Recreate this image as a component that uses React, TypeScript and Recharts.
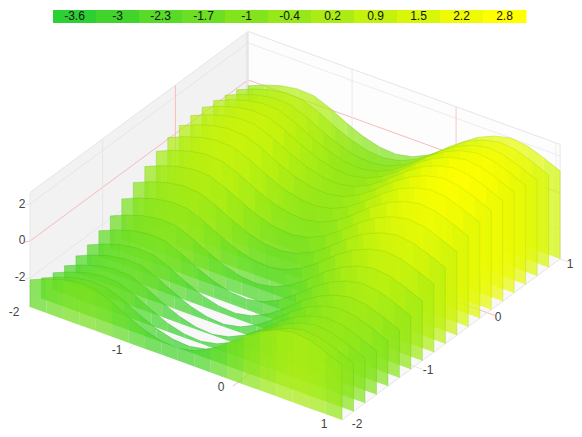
import React from "react";
import { ScatterChart, Scatter, XAxis, YAxis } from "recharts";

const WIDTH = 582;
const HEIGHT = 437;

// x positions along every ribbon, y position of every ribbon
const xValues = [-2, -1.842, -1.684, -1.526, -1.368, -1.211, -1.053, -0.895, -0.737, -0.579, -0.421, -0.263, -0.105, 0.053, 0.211, 0.368, 0.526, 0.684, 0.842, 1];
const yValues = [-2, -1.842, -1.684, -1.526, -1.368, -1.211, -1.053, -0.895, -0.737, -0.579, -0.421, -0.263, -0.105, 0.053, 0.211, 0.368, 0.526, 0.684, 0.842, 1];

// top edge of each ribbon
const ribbon0 = [-2.1, -1.73, -1.45, -1.3, -1.35, -1.71, -2.18, -2.58, -2.83, -2.9, -2.72, -2.3, -1.68, -0.97, -0.38, 0.01, 0.22, 0.12, -0.2, -0.59];
const ribbon1 = [-2.46, -2.09, -1.81, -1.66, -1.71, -2.07, -2.54, -2.94, -3.19, -3.26, -3.08, -2.66, -2.04, -1.33, -0.74, -0.35, -0.14, -0.24, -0.56, -0.95];
const ribbon2 = [-2.64, -2.27, -1.99, -1.84, -1.89, -2.25, -2.72, -3.12, -3.37, -3.44, -3.26, -2.84, -2.22, -1.51, -0.92, -0.53, -0.32, -0.42, -0.74, -1.13];
const ribbon3 = [-2.72, -2.35, -2.07, -1.92, -1.97, -2.33, -2.8, -3.2, -3.45, -3.52, -3.34, -2.92, -2.3, -1.59, -1.0, -0.61, -0.4, -0.5, -0.82, -1.21];
const ribbon4 = [-2.64, -2.27, -1.99, -1.84, -1.89, -2.25, -2.72, -3.12, -3.37, -3.44, -3.26, -2.84, -2.22, -1.51, -0.92, -0.53, -0.32, -0.42, -0.74, -1.13];
const ribbon5 = [-2.5, -2.13, -1.85, -1.7, -1.75, -2.11, -2.58, -2.98, -3.23, -3.3, -3.12, -2.7, -2.08, -1.37, -0.78, -0.39, -0.18, -0.28, -0.6, -0.99];
const ribbon6 = [-2.2, -1.83, -1.55, -1.4, -1.45, -1.81, -2.28, -2.68, -2.93, -3.0, -2.82, -2.4, -1.78, -1.07, -0.48, -0.09, 0.12, 0.02, -0.3, -0.69];
const ribbon7 = [-1.85, -1.48, -1.2, -1.05, -1.1, -1.46, -1.93, -2.33, -2.58, -2.65, -2.47, -2.05, -1.43, -0.72, -0.13, 0.26, 0.47, 0.37, 0.05, -0.34];
const ribbon8 = [-1.39, -1.02, -0.74, -0.59, -0.64, -1.0, -1.47, -1.87, -2.12, -2.19, -2.01, -1.59, -0.97, -0.26, 0.33, 0.72, 0.93, 0.83, 0.51, 0.12];
const ribbon9 = [-0.97, -0.6, -0.32, -0.17, -0.22, -0.58, -1.05, -1.45, -1.7, -1.77, -1.59, -1.17, -0.55, 0.16, 0.75, 1.14, 1.35, 1.25, 0.93, 0.54];
const ribbon10 = [-0.56, -0.19, 0.09, 0.24, 0.19, -0.17, -0.64, -1.04, -1.29, -1.36, -1.18, -0.76, -0.14, 0.57, 1.16, 1.55, 1.76, 1.66, 1.34, 0.95];
const ribbon11 = [-0.19, 0.18, 0.46, 0.61, 0.56, 0.2, -0.27, -0.67, -0.92, -0.99, -0.81, -0.39, 0.23, 0.94, 1.53, 1.92, 2.13, 2.03, 1.71, 1.32];
const ribbon12 = [0.09, 0.46, 0.74, 0.89, 0.84, 0.48, 0.01, -0.39, -0.64, -0.71, -0.53, -0.11, 0.51, 1.22, 1.81, 2.2, 2.41, 2.31, 1.99, 1.6];
const ribbon13 = [0.28, 0.65, 0.93, 1.08, 1.03, 0.67, 0.2, -0.2, -0.45, -0.52, -0.34, 0.08, 0.7, 1.41, 2.0, 2.39, 2.6, 2.5, 2.18, 1.79];
const ribbon14 = [0.36, 0.73, 1.01, 1.16, 1.11, 0.75, 0.28, -0.12, -0.37, -0.44, -0.26, 0.16, 0.78, 1.49, 2.08, 2.47, 2.68, 2.58, 2.26, 1.87];
const ribbon15 = [0.36, 0.73, 1.01, 1.16, 1.11, 0.75, 0.28, -0.12, -0.37, -0.44, -0.26, 0.16, 0.78, 1.49, 2.08, 2.47, 2.68, 2.58, 2.26, 1.87];
const ribbon16 = [0.26, 0.63, 0.91, 1.06, 1.01, 0.65, 0.18, -0.22, -0.47, -0.54, -0.36, 0.06, 0.68, 1.39, 1.98, 2.37, 2.58, 2.48, 2.16, 1.77];
const ribbon17 = [0.09, 0.46, 0.74, 0.89, 0.84, 0.48, 0.01, -0.39, -0.64, -0.71, -0.53, -0.11, 0.51, 1.22, 1.81, 2.2, 2.41, 2.31, 1.99, 1.6];
const ribbon18 = [-0.08, 0.29, 0.57, 0.72, 0.67, 0.31, -0.16, -0.56, -0.81, -0.88, -0.7, -0.28, 0.34, 1.05, 1.64, 2.03, 2.24, 2.14, 1.82, 1.43];
const ribbon19 = [-0.32, 0.05, 0.33, 0.48, 0.43, 0.07, -0.4, -0.8, -1.05, -1.12, -0.94, -0.52, 0.1, 0.81, 1.4, 1.79, 2.0, 1.9, 1.58, 1.19];
const ribbons = [ribbon0, ribbon1, ribbon2, ribbon3, ribbon4, ribbon5, ribbon6, ribbon7, ribbon8, ribbon9, ribbon10, ribbon11, ribbon12, ribbon13, ribbon14, ribbon15, ribbon16, ribbon17, ribbon18, ribbon19];

const legendLabels = ["-3.6", "-3", "-2.3", "-1.7", "-1", "-0.4", "0.2", "0.9", "1.5", "2.2", "2.8"];
const zTicks = [-2, 0, 2];
const xTicks = [-2, -1, 0, 1];
const yTicks = [-2, -1, 0, 1];

const Z_MIN = -3.57;
const Z_MAX = 2.62;
const GREY = "#e6e6e6";
const RED = "#f6bcbc";

type Pt = { x: number; y: number };

const project = (x: number, y: number, z: number): Pt => ({
  x: 30 + (x + 2) * 104 + (y + 2) * 72.7,
  y: 241 + (x + 2) * 37.67 - (y + 2) * 53.7 - z * 18.5,
});

const colorParts = (v: number) => {
  const t = Math.max(0, Math.min(1, (v + 3.6) / 6.3));
  return [44 + 211 * t, 208 + 47 * t, 50 - 50 * t];
};
const colorFor = (v: number) => {
  const [r, g, b] = colorParts(v);
  return `rgb(${Math.round(r)},${Math.round(g)},${Math.round(b)})`;
};
const edgeFor = (v: number) => {
  const [r, g, b] = colorParts(v);
  return `rgb(${Math.round(r * 0.8)},${Math.round(g * 0.86)},${Math.round(b * 0.8)})`;
};

type Item = {
  sx: number;
  sy: number;
  kind: "poly" | "line" | "text" | "rect";
  pts?: Pt[];
  fill?: string;
  fillOpacity?: number;
  stroke?: string;
  strokeOpacity?: number;
  text?: string;
  anchor?: string;
  size?: number;
  w?: number;
  h?: number;
};

const poly = (pts: Pt[], fill: string, fillOpacity = 1): Item => ({ sx: pts[0].x, sy: pts[0].y, kind: "poly", pts, fill, fillOpacity });
const line = (pts: Pt[], stroke: string, strokeOpacity = 1): Item => ({ sx: pts[0].x, sy: pts[0].y, kind: "line", pts, stroke, strokeOpacity });
const label = (x: number, y: number, text: string, fill = "#444", size = 12): Item => ({ sx: x, sy: y, kind: "text", text, fill, size, anchor: "middle" });

const Mark = (props: any) => {
  const { cx, cy, payload } = props;
  const d: Item = payload;
  const shifted = (d.pts || []).map((p) => `${cx + p.x - d.sx},${cy + p.y - d.sy}`).join(" ");
  if (d.kind === "poly") return <polygon points={shifted} fill={d.fill} fillOpacity={d.fillOpacity} stroke="none" />;
  if (d.kind === "line") return <polyline points={shifted} fill="none" stroke={d.stroke} strokeOpacity={d.strokeOpacity} strokeWidth={1} />;
  if (d.kind === "rect") return <rect x={cx} y={cy} width={d.w} height={d.h} fill={d.fill} />;
  return (
    <text x={cx} y={cy} textAnchor={d.anchor as any} dominantBaseline="central" fontFamily="'Liberation Sans', Arial, sans-serif" fontSize={d.size} fill={d.fill} style={{ opacity: 0.99 }}>
      {d.text}
    </text>
  );
};

const X0 = -2;
const X1 = 1;
const Y0 = -2;
const Y1 = 1;

const backdrop: Item[] = [
  poly([project(X0, Y0, Z_MIN), project(X1, Y0, Z_MIN), project(X1, Y1, Z_MIN), project(X0, Y1, Z_MIN)], "#f8f8f8"),
  poly([project(X0, Y1, Z_MIN), project(X1, Y1, Z_MIN), project(X1, Y1, Z_MAX), project(X0, Y1, Z_MAX)], "#fdfdfd"),
  poly([project(X0, Y0, Z_MIN), project(X0, Y1, Z_MIN), project(X0, Y1, Z_MAX), project(X0, Y0, Z_MAX)], "#f2f2f2"),
];

const gridLines: Item[] = [
  // floor
  ...xTicks.slice(1, 3).map((v) => line([{ x: project(v, Y0, Z_MIN).x - 5, y: project(v, Y0, Z_MIN).y + 3.7 }, project(v, Y1, Z_MIN)], v === 0 ? RED : GREY)),
  ...yTicks.slice(1, 3).map((v) => line([project(X0, v, Z_MIN), { x: project(X1, v, Z_MIN).x + 8, y: project(X1, v, Z_MIN).y + 3 }], v === 0 ? RED : GREY)),
  line([{ x: project(X1, Y1, Z_MIN).x + 8, y: project(X1, Y1, Z_MIN).y + 3 }, project(X1, Y1, Z_MIN), project(X1, Y0, Z_MIN)], GREY),
  // left wall
  ...zTicks.map((v) => line([{ x: project(X0, Y0, v).x - 5, y: project(X0, Y0, v).y + 1 }, project(X0, Y0, v), project(X0, Y1, v)], v === 0 ? RED : GREY)),
  ...yTicks.slice(1, 3).map((v) => line([project(X0, v, Z_MIN), project(X0, v, Z_MAX)], v === 0 ? RED : GREY)),
  // back wall
  ...zTicks.map((v) => line([project(X0, Y1, v), project(X1, Y1, v)], v === 0 ? RED : GREY, v === 0 ? 1 : 0.7)),
  ...xTicks.slice(1, 3).map((v) => line([project(v, Y1, Z_MIN), project(v, Y1, Z_MAX)], v === 0 ? RED : GREY, 0.8)),
  // edges
  line([project(X0, Y0, Z_MIN), project(X0, Y0, Z_MAX), project(X0, Y1, Z_MAX), project(X1, Y1, Z_MAX), project(X1, Y1, Z_MIN)], GREY),
  poly([{ x: 246, y: 33 }, { x: 248.7, y: 32 }, { x: 248.7, y: 146 }, { x: 246, y: 147 }], "#e6e6e6"),
  line([{ x: 556, y: 143 }, { x: 556, y: 258 }], "#eeeeee"),
];

const tickLabels: Item[] = [
  label(22, 204, "2"),
  label(22, 240, "0"),
  label(20, 277, "-2"),
  label(14, 312, "-2"),
  label(117, 350, "-1"),
  label(221, 387, "0"),
  label(324, 424, "1"),
  label(357, 424, "-2"),
  label(428, 370, "-1"),
  label(498, 317, "0"),
  label(570, 264, "1"),
];

const legendItems: Item[] = legendLabels.flatMap((text, k) => [
  { sx: 53 + 43 * k, sy: 10, kind: "rect" as const, w: 43.5, h: 13, fill: colorFor(Number(text)) },
  label(74.5 + 43 * k, 16, text, "#111", 12),
]);

const ribbonItems = (row: number): Item[] => {
  const y = yValues[row];
  const zs = ribbons[row];
  const quads: Item[] = zs.slice(0, -1).map((z, j) =>
    poly(
      [project(xValues[j], y, Z_MIN), project(xValues[j + 1], y, Z_MIN), project(xValues[j + 1], y, zs[j + 1]), project(xValues[j], y, z)],
      colorFor((z + zs[j + 1]) / 2),
      0.72,
    ),
  );
  const topEdges: Item[] = zs.slice(0, -1).map((z, j) =>
    line([project(xValues[j], y, z), project(xValues[j + 1], y, zs[j + 1])], edgeFor((z + zs[j + 1]) / 2), 0.4),
  );
  const ends: Item[] = [
    line([project(xValues[0], y, Z_MIN), project(xValues[0], y, zs[0])], edgeFor(zs[0]), 0.35),
    line([project(xValues[19], y, Z_MIN), project(xValues[19], y, zs[19])], edgeFor(zs[19]), 0.35),
  ];
  return [...quads, ...topEdges, ...ends];
};

const order = ribbons.map((_, i) => ribbons.length - 1 - i);

export default function App() {
  return (
    <div style={{ position: "absolute", left: 0, top: 0, width: WIDTH, height: HEIGHT }}>
      <ScatterChart width={WIDTH} height={HEIGHT} margin={{ top: 0, right: 0, bottom: 0, left: 0 }}>
        <XAxis type="number" dataKey="sx" domain={[0, WIDTH]} allowDataOverflow hide />
        <YAxis type="number" dataKey="sy" domain={[0, HEIGHT]} allowDataOverflow reversed hide />
        <Scatter data={backdrop} shape={Mark} isAnimationActive={false} />
        <Scatter data={gridLines} shape={Mark} isAnimationActive={false} />
        <Scatter data={tickLabels} shape={Mark} isAnimationActive={false} />
        {order.map((row) => (
          <Scatter key={row} data={ribbonItems(row)} shape={Mark} isAnimationActive={false} />
        ))}
        <Scatter data={legendItems} shape={Mark} isAnimationActive={false} />
      </ScatterChart>
    </div>
  );
}
